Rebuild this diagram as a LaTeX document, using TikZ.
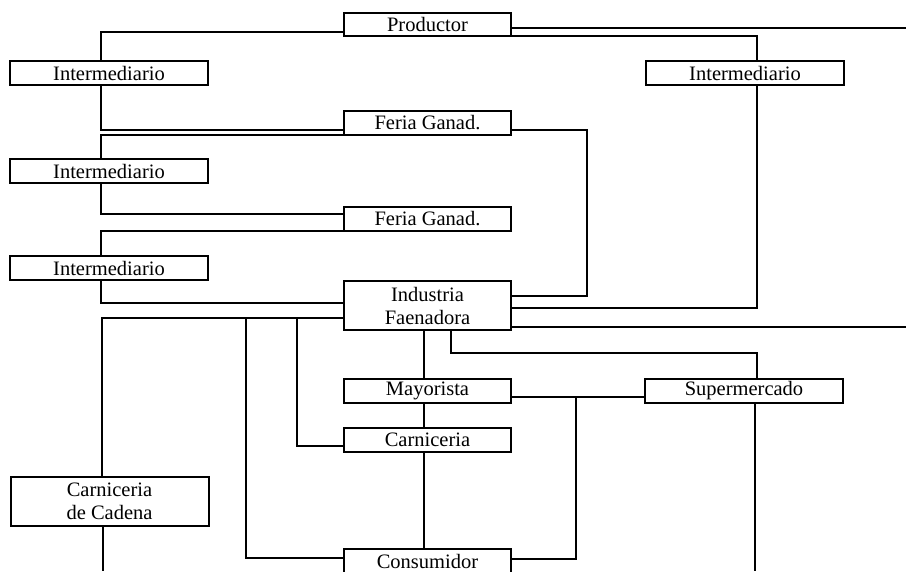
\documentclass[tikz,border=0pt]{standalone}
\usepackage{fontspec}
\setmainfont{Liberation Serif}
\usetikzlibrary{positioning}
\begin{document}
\begin{tikzpicture}[x=1pt,y=-1pt,
boxnode/.style={rectangle, draw=black, line width=2pt, fill=white, minimum width=167pt, minimum height=24pt,
inner sep=0pt, outer sep=0pt, align=center, font=\fontsize{20.5}{23}\selectfont},
widenode/.style={boxnode, minimum width=198pt},
tallnode/.style={minimum height=49pt},
link/.style={line width=2pt}]
\useasboundingbox (0,0) rectangle (906,571);
\clip (0,0) rectangle (906,571);
\coordinate (edgeR) at (906,0);
\coordinate (edgeB) at (0,571);
%Nodes
\node[boxnode, minimum height=23pt] (prod) at (427.5,24.5) {Productor};
\node[boxnode]   (feria1) [below=75pt of prod]   {Feria Ganad.};
\node[boxnode]   (feria2) [below=72pt of feria1] {Feria Ganad.};
\node[boxnode, tallnode] (ind) [below=50pt of feria2] {Industria\\Faenadora};
\node[boxnode]   (mayor)  [below=49pt of ind]    {Mayorista};
\node[boxnode]   (carn)   [below=25pt of mayor]  {Carniceria};
\node[boxnode]   (cons)   [below=97pt of carn]   {Consumidor};
\node[widenode]  (imL1) at (109,73)               {Intermediario};
\node[widenode]  (imL2)   [below=74pt of imL1]   {Intermediario};
\node[widenode]  (imL3)   [below=73pt of imL2]   {Intermediario};
\node[widenode, tallnode] (cadena) at (109.5,501) {Carniceria\\de Cadena};
\node[widenode]  (imR) at (745,73)                {Intermediario};
\node[widenode]  (super) at (744,391)             {Supermercado};
%Lines
\draw[link] ([yshift=-7.5pt]prod.west) -| ([xshift=-8pt]imL1.north);
\draw[link] ([yshift=-3.5pt]prod.east) -- ([yshift=-3.5pt]prod.east -| edgeR);
\draw[link] (prod.south east) -| ([xshift=12pt]imR.north);
\draw[link] ([xshift=-8pt]imL1.south) |- ([yshift=-7pt]feria1.west);
\draw[link] (feria1.south west) -| ([xshift=-8pt]imL2.north);
\draw[link] ([xshift=-8pt]imL2.south) |- ([yshift=5.5pt]feria2.west);
\draw[link] (feria2.south west) -| ([xshift=-8pt]imL3.north);
\draw[link] ([xshift=-8pt]imL3.south) |- ([yshift=2.5pt]ind.west);
\draw[link] ([yshift=-7pt]feria1.east) -- ++(76,0) |- ([yshift=9.5pt]ind.east);
\draw[link] ([xshift=12pt]imR.south) |- ([yshift=-2.5pt]ind.east);
\draw[link] ([yshift=-21.5pt]ind.east) -- ([yshift=-21.5pt]ind.east -| edgeR);
\draw[link] ([yshift=-12.5pt]ind.west) -| ([xshift=-8pt]cadena.north);
\draw[link] ([yshift=-12.5pt]ind.west) -- ++(-47,0) |- ([yshift=-6pt]carn.west);
\draw[link] ([yshift=-12.5pt]ind.west) -- ++(-98,0) |- ([yshift=3pt]cons.west);
\draw[link] ([xshift=-3.5pt]ind.south) -- ([xshift=-3.5pt]mayor.north);
\draw[link] ([xshift=23.5pt]ind.south) -- ++(0,23) -| ([xshift=13pt]super.north);
\draw[link] ([xshift=-3.5pt]mayor.south) -- ([xshift=-3.5pt]carn.north);
\draw[link] ([xshift=-3.5pt]carn.south) -- ([xshift=-3.5pt]cons.north);
\draw[link] ([yshift=-6pt]mayor.east) -- ([yshift=-6pt]super.west);
\draw[link] ([yshift=-6pt]mayor.east) -- ++(65,0) |- ([yshift=2pt]cons.east);
\draw[link] ([xshift=11pt]super.south) -- ([xshift=11pt]super.south |- edgeB);
\draw[link] ([xshift=-6.5pt]cadena.south) -- ([xshift=-6.5pt]cadena.south |- edgeB);
\end{tikzpicture}
\end{document}
